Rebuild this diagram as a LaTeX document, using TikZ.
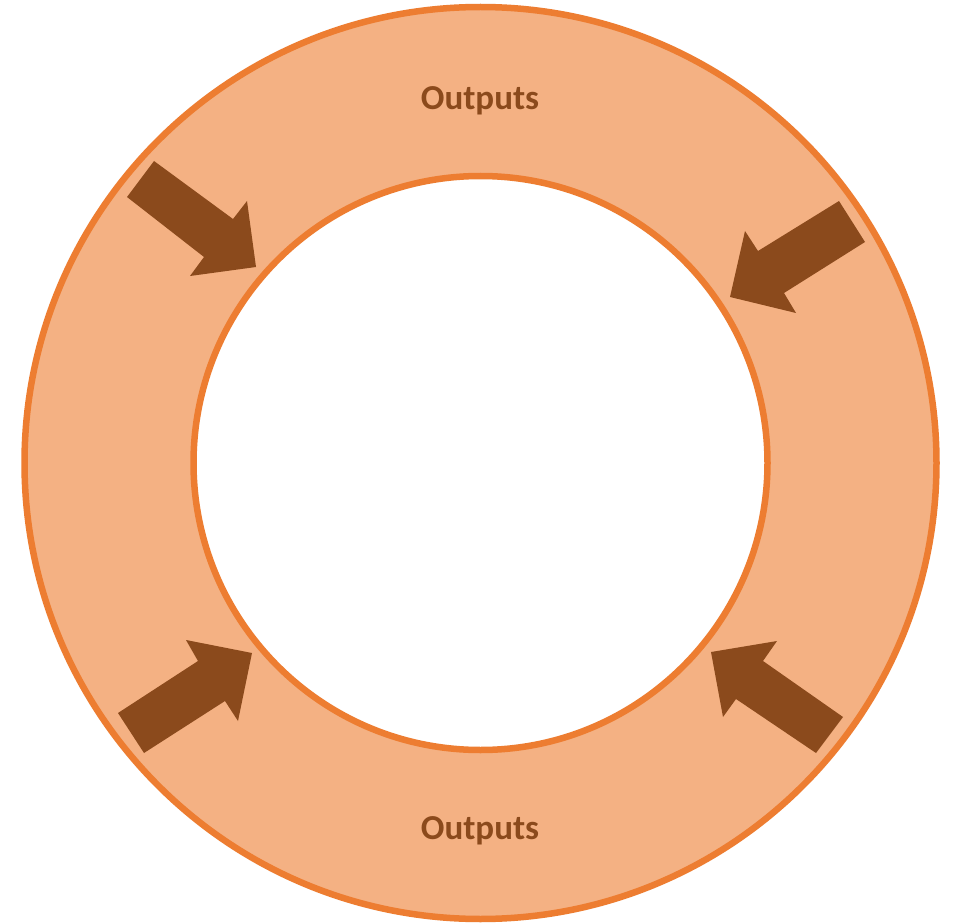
\documentclass[tikz,border=0pt]{standalone}
\usepackage{fontspec}
\setmainfont{Carlito}
\definecolor{ringfill}{HTML}{F4B183}
\definecolor{ringline}{HTML}{ED7D31}
\definecolor{arrowcol}{HTML}{8B4A1C}
\tikzset{
  ringstyle/.style={draw=ringline, line width=6.5pt},
  blockarrow/.style={fill=arrowcol, draw=none},
  labeltext/.style={text=arrowcol, font=\bfseries\fontsize{35}{42}\selectfont}
}
\begin{document}
\begin{tikzpicture}[x=1pt,y=-1pt]
\useasboundingbox (0,0) rectangle (954,923);
\fill[white] (0,0) rectangle (954,923);
\coordinate (c) at (480.5,463);
\draw[ringstyle, fill=ringfill] (c) circle[radius=456];
\draw[ringstyle, fill=white] (c) circle[radius=287];
% top-left arrow
\fill[blockarrow] (154,161) -- (233,219) -- (247,201) -- (256,267) -- (190,276) -- (204,257) -- (127,197) -- cycle;
% top-right arrow
\fill[blockarrow] (839,201) -- (865,242) -- (784,293) -- (796,313) -- (730,297) -- (745,231) -- (758,251) -- cycle;
% bottom-left arrow
\fill[blockarrow] (118,713) -- (198,661) -- (186,640) -- (252,653) -- (238,721) -- (225,701) -- (144,753) -- cycle;
% bottom-right arrow
\fill[blockarrow] (843,717) -- (763,661) -- (777,641) -- (711,652) -- (723,717) -- (736,699) -- (816,753) -- cycle;
\node[labeltext] (top) at (480,101) {Outputs};
\node[labeltext] (bottom) at (480,831) {Outputs};
\end{tikzpicture}
\end{document}
